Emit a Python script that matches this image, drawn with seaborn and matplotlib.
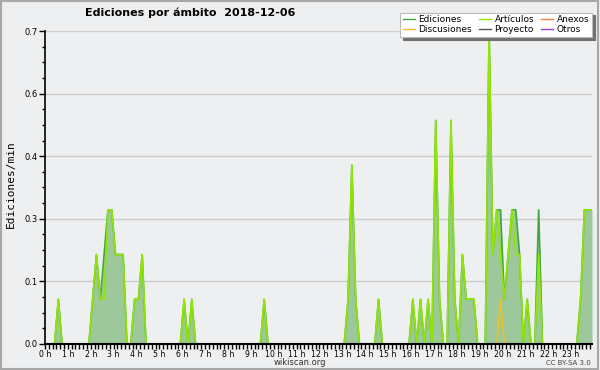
import matplotlib
matplotlib.use("Agg")
import matplotlib.pyplot as plt
import matplotlib.ticker as mticker
from matplotlib.lines import Line2D
from matplotlib.patches import Rectangle
import numpy as np
import pandas as pd
import seaborn as sns

# 10-minute bins, one row per hour (edits per minute)
ediciones = [
    0, 0, 0, 0.1, 0, 0,            # 0 h
    0, 0, 0, 0, 0, 0,              # 1 h
    0.1, 0.2, 0.1, 0.2, 0.3, 0.3,  # 2 h
    0.2, 0.2, 0.2, 0, 0, 0.1,      # 3 h
    0.1, 0.2, 0, 0, 0, 0,          # 4 h
    0, 0, 0, 0, 0, 0,              # 5 h
    0.1, 0, 0.1, 0, 0, 0,          # 6 h
    0, 0, 0, 0, 0, 0,              # 7 h
    0, 0, 0, 0, 0, 0,              # 8 h
    0, 0, 0, 0.1, 0, 0,            # 9 h
    0, 0, 0, 0, 0, 0,              # 10 h
    0, 0, 0, 0, 0, 0,              # 11 h
    0, 0, 0, 0, 0, 0,              # 12 h
    0, 0.1, 0.4, 0.1, 0, 0,        # 13 h
    0, 0, 0, 0.1, 0, 0,            # 14 h
    0, 0, 0, 0, 0, 0,              # 15 h
    0.1, 0, 0.1, 0, 0.1, 0,        # 16 h
    0.5, 0.1, 0, 0, 0.5, 0.1,      # 17 h
    0, 0.2, 0.1, 0.1, 0.1, 0,      # 18 h
    0, 0, 0.7, 0.2, 0.3, 0.3,      # 19 h
    0.1, 0.2, 0.3, 0.3, 0.2, 0,    # 20 h
    0.1, 0, 0, 0.3, 0, 0,          # 21 h
    0, 0, 0, 0, 0, 0,              # 22 h
    0, 0, 0.1, 0.3, 0.3, 0.3,      # 23 h
]

articulos = [
    0, 0, 0, 0.1, 0, 0,
    0, 0, 0, 0, 0, 0,
    0.1, 0.2, 0.1, 0.1, 0.3, 0.3,
    0.2, 0.2, 0.2, 0, 0, 0.1,
    0.1, 0.2, 0, 0, 0, 0,
    0, 0, 0, 0, 0, 0,
    0.1, 0, 0.1, 0, 0, 0,
    0, 0, 0, 0, 0, 0,
    0, 0, 0, 0, 0, 0,
    0, 0, 0, 0.1, 0, 0,
    0, 0, 0, 0, 0, 0,
    0, 0, 0, 0, 0, 0,
    0, 0, 0, 0, 0, 0,
    0, 0.1, 0.4, 0.1, 0, 0,
    0, 0, 0, 0.1, 0, 0,
    0, 0, 0, 0, 0, 0,
    0.1, 0, 0.1, 0, 0.1, 0,
    0.5, 0.1, 0, 0, 0.5, 0.1,
    0, 0.2, 0.1, 0.1, 0.1, 0,
    0, 0, 0.7, 0.2, 0.3, 0.2,
    0.1, 0.2, 0.3, 0.2, 0.2, 0,
    0.1, 0, 0, 0.2, 0, 0,
    0, 0, 0, 0, 0, 0,
    0, 0, 0.1, 0.3, 0.3, 0.3,
]

# only one talk-page edit during the day (19:50)
discusiones = [0] * 144
discusiones[119] = 0.1

proyecto = [0] * 144
anexos = [0] * 144
otros = [0] * 144

horas = [(i + 0.5) / 6 for i in range(144)]
hour_labels = [f"{h} h" for h in range(24)]

series = {
    "Ediciones": ediciones,
    "Discusiones": discusiones,
    "Artículos": articulos,
    "Proyecto": proyecto,
    "Anexos": anexos,
    "Otros": otros,
}
colores = {
    "Ediciones": "#3fa83f",
    "Discusiones": "#f0c020",
    "Artículos": "#92e600",
    "Proyecto": "#555555",
    "Anexos": "#ff7a45",
    "Otros": "#9645e8",
}
draw_order = ["Otros", "Anexos", "Proyecto", "Ediciones", "Discusiones", "Artículos"]

df = pd.concat(
    [pd.DataFrame({"hora": horas, "valor": vals, "ambito": name}) for name, vals in series.items()],
    ignore_index=True,
)

bg = "#eeeff1"
fig = plt.figure(figsize=(6, 3.7), dpi=100, facecolor=bg)
ax = fig.add_axes([0.075, 0.0703, 0.9117, 0.8459])
ax.set_facecolor(bg)

ax.fill_between(horas, ediciones, color="#9cc89c", lw=0, zorder=1.5)
sns.lineplot(data=df, x="hora", y="valor", hue="ambito", hue_order=draw_order,
             palette=colores, linewidth=1.2, estimator=None, sort=False,
             legend=False, ax=ax)

ymax = max(ediciones)
ax.set_xlim(0, horas[-1])
ax.set_ylim(0, ymax)

ax.set_yticks(np.linspace(0, ymax, 6))
ax.yaxis.set_major_formatter(mticker.FormatStrFormatter("%.1f"))
ax.yaxis.set_minor_locator(mticker.AutoMinorLocator(4))
ax.set_xticks(range(24))
ax.set_xticklabels(hour_labels)
ax.xaxis.set_minor_locator(mticker.MultipleLocator(1 / 6))

ax.tick_params(axis="y", which="major", length=4, width=1, labelsize=6, pad=1)
ax.tick_params(axis="y", which="minor", length=2, width=1)
ax.tick_params(axis="x", which="both", length=3.5, width=1, labelsize=5.6, pad=0.5)

ax.grid(axis="y", which="major", color="#cccccc", lw=1)
ax.set_axisbelow(True)
for side in ("top", "right"):
    ax.spines[side].set_visible(False)
ax.spines["left"].set_linewidth(1.2)
ax.spines["bottom"].set_linewidth(1.5)
ax.set_xlabel("")
ax.set_ylabel("")

fig.text(0.142, 0.965, "Ediciones por ámbito  2018-12-06", fontsize=8,
         fontweight="bold", ha="left", va="center")
fig.text(0.018, 0.503, "Ediciones/min", rotation=90, ha="center", va="center",
         family="DejaVu Sans Mono", fontsize=8)
fig.text(0.5, 0.02, "wikiscan.org", ha="center", va="center", fontsize=6, color="#333333")
fig.text(0.985, 0.018, "CC BY-SA 3.0", ha="right", va="center", fontsize=5, color="#444444")

legend_names = ["Ediciones", "Discusiones", "Artículos", "Proyecto", "Anexos", "Otros"]
handles = [Line2D([], [], color=colores[n], lw=1) for n in legend_names]
leg = fig.legend(handles, legend_names, ncol=3, loc="upper right",
                 bbox_to_anchor=(0.9867, 0.9657), borderaxespad=0,
                 fontsize=6.5, frameon=True,
                 fancybox=False, framealpha=1, edgecolor="#bbbbbb",
                 shadow={"facecolor": "#707070", "edgecolor": "#707070", "alpha": 1},
                 handlelength=1.3, handletextpad=0.4, columnspacing=0.8,
                 borderpad=0.3, labelspacing=0.1)
leg.get_frame().set_linewidth(0.8)

fig.patches.append(Rectangle((0.002, 0.003), 0.995, 0.993, transform=fig.transFigure,
                             fill=False, ec="#a8a8a8", lw=1.5))

fig.savefig("out.png", dpi=100, facecolor=bg)
